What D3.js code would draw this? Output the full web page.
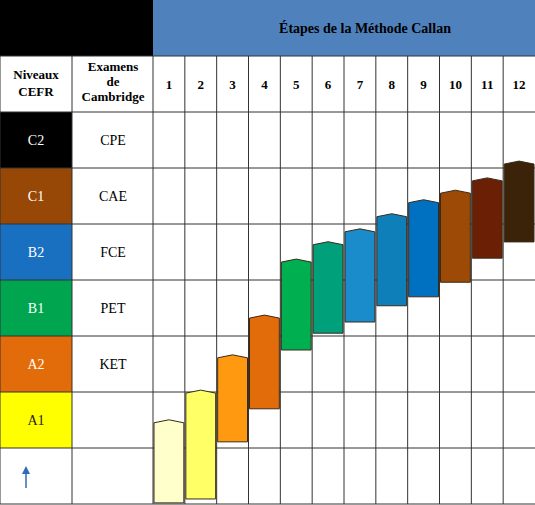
<!DOCTYPE html>
<html>
<head>
<meta charset="utf-8">
<script src="https://d3js.org/d3.v7.min.js"></script>
<style>
  body { margin: 0; background: #fff; }
  text { font-family: "Liberation Serif", serif; }
</style>
</head>
<body>
<svg id="chart" width="535" height="505"></svg>
<script>
// data
const levels = ["C2", "C1", "B2", "B1", "A2", "A1", ""];
const exams = ["CPE", "CAE", "FCE", "PET", "KET", "", ""];
const levelColors = ["#000000", "#974806", "#1a70c0", "#00a550", "#e36c0a", "#ffff00", "#ffffff"];
const levelText = ["#fff", "#fff", "#fff", "#fff", "#fff", "#222", "#000"];
const stages = [1, 2, 3, 4, 5, 6, 7, 8, 9, 10, 11, 12];
const stageTop = [1.45, 1.98, 2.61, 3.32, 4.32, 4.63, 4.86, 5.13, 5.38, 5.55, 5.77, 6.07];
const stageBottom = [0.02, 0.09, 1.11, 1.70, 2.75, 3.05, 3.25, 3.54, 3.70, 3.96, 4.39, 4.68];
const stageColors = ["#ffffcc", "#ffff66", "#ff9910", "#e36c0a", "#00b050", "#00a07a",
  "#1a8ccc", "#0f7fba", "#0070c0", "#9c4a06", "#6b1f04", "#3a2308"];

const svg = d3.select("#chart");
const x = d3.scaleBand().domain(stages).range([153, 535]);
const row = d3.scaleBand().domain(d3.range(levels.length)).range([112, 504]);
const y = d3.scaleLinear().domain([0, 7]).range([504, 112]);

// header
svg.append("rect").attr("x", 0).attr("y", 0).attr("width", 153).attr("height", 56).attr("fill", "#000");
svg.append("rect").attr("x", 153).attr("y", 0).attr("width", 382).attr("height", 56).attr("fill", "#4f81bd");
svg.append("text").attr("x", 365).attr("y", 33).attr("text-anchor", "middle")
  .attr("font-size", 14).attr("font-weight", "bold").attr("fill", "#000").text("Étapes de la Méthode Callan");

// level column
levels.forEach(function(d, i) {
  svg.append("rect").attr("x", 0).attr("y", row(i)).attr("width", 72).attr("height", row.bandwidth())
    .attr("fill", levelColors[i]);
  svg.append("text").attr("x", 36).attr("y", row(i) + 33).attr("text-anchor", "middle")
    .attr("font-size", 14).attr("fill", levelText[i]).text(d);
  svg.append("text").attr("x", 113).attr("y", row(i) + 33).attr("text-anchor", "middle")
    .attr("font-size", 14).attr("fill", "#000").text(exams[i]);
});

// arrow
svg.append("line").attr("x1", 26).attr("x2", 26).attr("y1", 488).attr("y2", 472)
  .attr("stroke", "#2e6db4").attr("stroke-width", 1.5);
svg.append("path").attr("d", "M22,474 L26,466 L30,474 Z").attr("fill", "#2e6db4");

// column headings
svg.append("text").attr("x", 36).attr("text-anchor", "middle").attr("font-size", 13).attr("font-weight", "bold")
  .selectAll("tspan").data(["Niveaux", "CEFR"]).join("tspan")
  .attr("x", 36).attr("y", function(d, i) { return 79 + i * 17; }).text(function(d) { return d; });
svg.append("text").attr("text-anchor", "middle").attr("font-size", 13).attr("font-weight", "bold")
  .selectAll("tspan").data(["Examens", "de", "Cambridge"]).join("tspan")
  .attr("x", 113).attr("y", function(d, i) { return 71 + i * 15; }).text(function(d) { return d; });
svg.selectAll(".num").data(stages).join("text")
  .attr("x", function(d) { return x(d) + x.bandwidth() / 2; }).attr("y", 89)
  .attr("text-anchor", "middle").attr("font-size", 13).attr("font-weight", "bold").text(function(d) { return d; });

// grid
const grid = svg.append("g").attr("stroke", "#333").attr("stroke-width", 1);
[56].concat(d3.range(levels.length + 1).map(function(i) { return 112 + i * row.bandwidth(); })).forEach(function(yy) {
  grid.append("line").attr("x1", 0).attr("x2", 535).attr("y1", yy).attr("y2", yy);
});
[72, 153].forEach(function(xx) {
  grid.append("line").attr("x1", xx).attr("x2", xx).attr("y1", 56).attr("y2", 504);
});
stages.slice(1).forEach(function(d) {
  grid.append("line").attr("x1", x(d)).attr("x2", x(d)).attr("y1", 56).attr("y2", 504);
});
grid.append("line").attr("x1", 0).attr("x2", 0).attr("y1", 56).attr("y2", 504);

// stage bars
svg.selectAll(".bar").data(stages).join("path")
  .attr("fill", function(d, i) { return stageColors[i]; })
  .attr("stroke", "#3a2a1a").attr("stroke-width", 1)
  .attr("d", function(d, i) {
    const x0 = x(d) + 1, x1 = x(d) + x.bandwidth() - 1, xm = (x0 + x1) / 2;
    const t = y(stageTop[i]), b = y(stageBottom[i]);
    return "M" + x0 + "," + b + "L" + x0 + "," + t + "L" + xm + "," + (t - 3) + "L" + x1 + "," + t + "L" + x1 + "," + b + "Z";
  });
</script>
</body>
</html>
